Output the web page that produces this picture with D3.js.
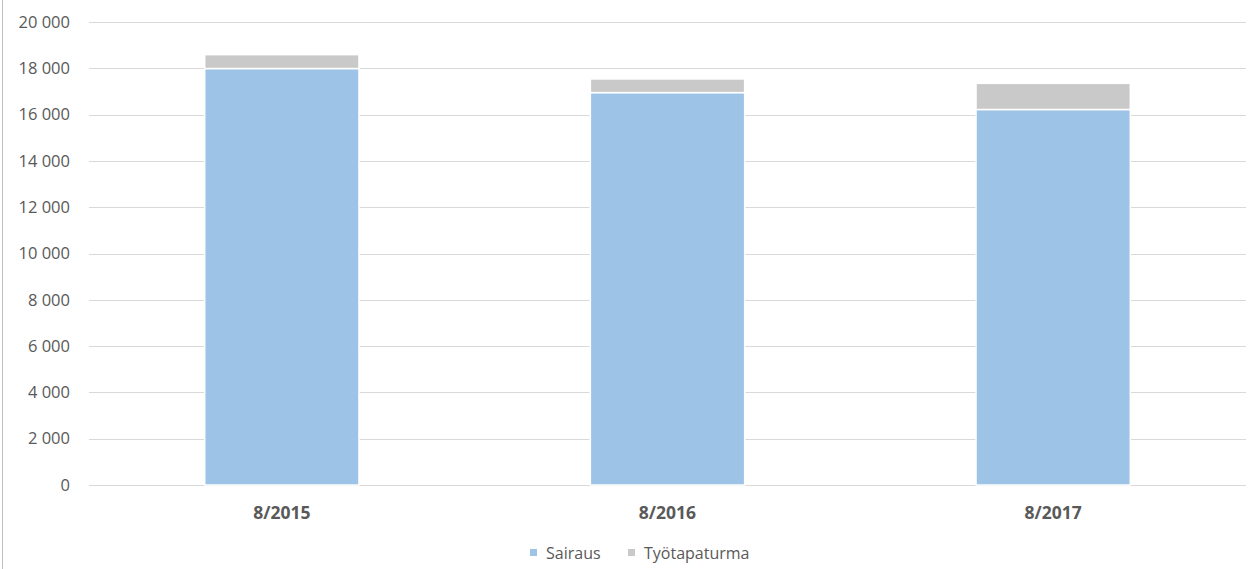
<!DOCTYPE html>
<html>
<head>
<meta charset="utf-8">
<script src="https://cdn.jsdelivr.net/npm/d3@7"></script>
<style>
  body { margin: 0; background: #fff; }
  svg { display: block; font-family: "Open Sans", "Noto Sans", sans-serif; }
</style>
</head>
<body>
<svg id="chart" width="1249" height="569"></svg>
<script>
var categories = ["8/2015", "8/2016", "8/2017"];
var sairaus = [17990, 16950, 16220];
var tyotapaturma = [600, 590, 1130];
var seriesNames = ["Sairaus", "Työtapaturma"];
var yTicks = [0, 2000, 4000, 6000, 8000, 10000, 12000, 14000, 16000, 18000, 20000];

var colors = ["#9DC3E6", "#C9C9C9"];

var svg = d3.select("#chart");
var margin = { top: 22, right: 3, bottom: 84, left: 89 };
var width = 1249 - margin.left - margin.right;
var height = 569 - margin.top - margin.bottom;

// chart border on the left
svg.append("line")
    .attr("x1", 2.5).attr("x2", 2.5)
    .attr("y1", 0).attr("y2", 569)
    .attr("stroke", "#BFBFBF")
    .attr("stroke-width", 1);

var g = svg.append("g").attr("transform", "translate(" + margin.left + "," + margin.top + ")");

var x = d3.scaleBand().domain(categories).range([0, width]).paddingInner(0.6).paddingOuter(0.3);
var y = d3.scaleLinear().domain([0, 20000]).range([height, 0]);

var fmt = function (v) { return d3.format(",")(v).replace(/,/g, " "); };

// gridlines
g.selectAll("line.grid")
    .data(yTicks)
    .enter().append("line")
    .attr("class", "grid")
    .attr("x1", 0).attr("x2", width)
    .attr("y1", function (d) { return Math.round(y(d)) + 0.5; })
    .attr("y2", function (d) { return Math.round(y(d)) + 0.5; })
    .attr("stroke", "#D9D9D9");

g.selectAll("text.ytick")
    .data(yTicks)
    .enter().append("text")
    .attr("class", "ytick")
    .attr("x", -19)
    .attr("y", function (d) { return y(d); })
    .attr("dy", "0.35em")
    .attr("text-anchor", "end")
    .attr("fill", "#595959")
    .style("font-size", "16.5px")
    .text(fmt);

var data = categories.map(function (c, i) {
    return { cat: c, Sairaus: sairaus[i], "Työtapaturma": tyotapaturma[i] };
});
var stacked = d3.stack().keys(seriesNames)(data);

g.selectAll("g.series")
    .data(stacked)
    .enter().append("g")
    .attr("class", "series")
    .attr("fill", function (d, i) { return colors[i]; })
    .selectAll("rect")
    .data(function (d) { return d; })
    .enter().append("rect")
    .attr("x", function (d) { return x(d.data.cat); })
    .attr("width", x.bandwidth())
    .attr("y", function (d) { return y(d[1]); })
    .attr("height", function (d) { return y(d[0]) - y(d[1]); })
    .attr("stroke", "#fff")
    .attr("stroke-width", 1.5);

// category labels
g.selectAll("text.cat")
    .data(categories)
    .enter().append("text")
    .attr("class", "cat")
    .attr("x", function (d) { return x(d) + x.bandwidth() / 2; })
    .attr("y", height + 34)
    .attr("text-anchor", "middle")
    .attr("fill", "#595959")
    .style("font-size", "17.5px")
    .style("font-weight", "bold")
    .text(function (d) { return d; });

// legend
var legend = svg.append("g").attr("transform", "translate(530,549)");
var offsets = [0, 98];
seriesNames.forEach(function (name, i) {
    var item = legend.append("g").attr("transform", "translate(" + offsets[i] + ",0)");
    item.append("rect")
        .attr("width", 7).attr("height", 7)
        .attr("fill", colors[i]);
    item.append("text")
        .attr("x", 16).attr("y", 4)
        .attr("dy", "0.35em")
        .attr("fill", "#595959")
        .style("font-size", "16px")
        .text(name);
});
</script>
</body>
</html>
